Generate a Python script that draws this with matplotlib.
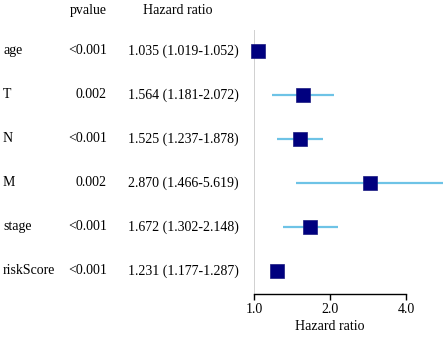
import numpy as np
import matplotlib
matplotlib.use("Agg")
from matplotlib import pyplot as plt
from matplotlib.ticker import FixedLocator, NullLocator

# forest plot data
variables = ['age', 'T', 'N', 'M', 'stage', 'riskScore']
pvalues = ['<0.001', '0.002', '<0.001', '0.002', '<0.001', '<0.001']
hr = [1.035, 1.564, 1.525, 2.870, 1.672, 1.231]
hr_low = [1.019, 1.181, 1.237, 1.466, 1.302, 1.177]
hr_high = [1.052, 2.072, 1.878, 5.619, 2.148, 1.287]
tick_values = [1.0, 2.0, 4.0]
tick_labels = ['1.0', '2.0', '4.0']

plt.rcParams['font.family'] = ['Liberation Serif', 'DejaVu Serif']
FS = 10

W, H = 447, 337
fig = plt.figure(figsize=(W / 100, H / 100), dpi=100)

# plot area in pixels: x 254..447, y 30..294 (from top)
ax = fig.add_axes([254 / W, (H - 294) / H, (W - 254) / W, 264 / H])
ax.set_xscale('log', base=2)
ax.set_xlim(1.0, 2 ** ((W - 254) / 76))
ax.set_ylim(0.477, 6.477)

n = len(variables)
ypos = np.arange(n, 0, -1)

ax.axvline(1.0, color='#c8c8c8', lw=1.2, zorder=1)
ax.hlines(ypos, hr_low, hr_high, color='#6ec3e6', lw=1.6, zorder=2, clip_on=False)
ax.plot(hr, ypos, 's', color='#00007f', markersize=10, markeredgewidth=0.5,
        markeredgecolor='#1a1a80', zorder=3, clip_on=False)

for s in ['top', 'right', 'left']:
    ax.spines[s].set_visible(False)
ax.spines['bottom'].set_bounds(1.0, 4.0)
ax.spines['bottom'].set_linewidth(1.0)
ax.yaxis.set_major_locator(NullLocator())
ax.xaxis.set_major_locator(FixedLocator(tick_values))
ax.xaxis.set_minor_locator(NullLocator())
ax.set_xticklabels(tick_labels)
ax.tick_params(axis='x', direction='out', length=4.5, width=1.0, pad=2, labelsize=FS)
ax.patch.set_visible(False)

# table text
def put(x, y, s, ha='left'):
    ax.annotate(s, xy=(x, y), xycoords=('figure pixels', 'data'),
                ha=ha, va='center', fontsize=FS, annotation_clip=False)

for i in range(n):
    put(3, ypos[i], variables[i])
    put(107, ypos[i], pvalues[i], ha='right')
    put(128, ypos[i], '%.3f (%.3f-%.3f)' % (hr[i], hr_low[i], hr_high[i]))

put(107, 6.91, 'pvalue', ha='right')
put(178, 6.91, 'Hazard ratio', ha='center')

fig.text(330 / W, (H - 327) / H, 'Hazard ratio', ha='center', va='center', fontsize=FS)

plt.savefig('out.png', dpi=100)
